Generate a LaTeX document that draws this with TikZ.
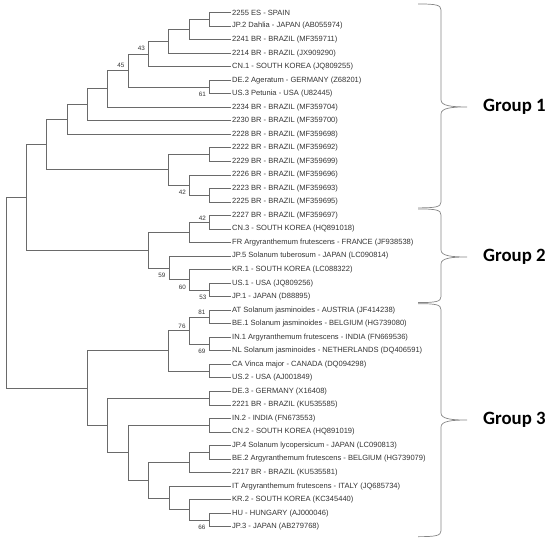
\documentclass[tikz,border=0pt]{standalone}
\usepackage{fontspec}
\usepackage{tikz}
\newfontfamily\leaffont{Liberation Sans}
\newfontfamily\groupfont[BoldFont={Carlito Bold}]{Carlito}
\definecolor{linegray}{HTML}{6A6A6A}
\definecolor{textgray}{HTML}{333333}
\definecolor{bracegray}{HTML}{858585}

\tikzset{
  leaf/.style={anchor=west, inner sep=1pt, text=textgray, font=\leaffont\fontsize{7.55}{8}\selectfont},
  boot/.style={inner sep=0pt, text=textgray, font=\leaffont\fontsize{6.3}{7}\selectfont},
  branch/.style={draw=linegray, line width=0.65pt},
  groupbrace/.style={draw=bracegray, line width=0.7pt},
  grouplabel/.style={anchor=west, inner sep=0pt, font=\groupfont\bfseries\fontsize{18.8}{20}\selectfont}
}

\begin{document}
\begin{tikzpicture}[x=1pt, y=-13.53pt]
	\useasboundingbox (0, -0.924) rectangle (550, 38.913);
	% leaves, one row each
	\node[leaf] (es2255)  at (231, 0)  {2255 ES - SPAIN};
	\node[leaf] (jp2)     at (231, 1)  {JP.2 Dahlia - JAPAN (AB055974)};
	\node[leaf] (br2241)  at (231, 2)  {2241 BR - BRAZIL (MF359711)};
	\node[leaf] (br2214)  at (231, 3)  {2214 BR - BRAZIL (JX909290)};
	\node[leaf] (cn1)     at (231, 4)  {CN.1 - SOUTH KOREA (JQ809255)};
	\node[leaf] (de2)     at (231, 5)  {DE.2 Ageratum - GERMANY (Z68201)};
	\node[leaf] (us3)     at (231, 6)  {US.3 Petunia - USA (U82445)};
	\node[leaf] (br2234)  at (231, 7)  {2234 BR - BRAZIL (MF359704)};
	\node[leaf] (br2230)  at (231, 8)  {2230 BR - BRAZIL (MF359700)};
	\node[leaf] (br2228)  at (231, 9)  {2228 BR - BRAZIL (MF359698)};
	\node[leaf] (br2222)  at (231, 10) {2222 BR - BRAZIL (MF359692)};
	\node[leaf] (br2229)  at (231, 11) {2229 BR - BRAZIL (MF359699)};
	\node[leaf] (br2226)  at (231, 12) {2226 BR - BRAZIL (MF359696)};
	\node[leaf] (br2223)  at (231, 13) {2223 BR - BRAZIL (MF359693)};
	\node[leaf] (br2225)  at (231, 14) {2225 BR - BRAZIL (MF359695)};
	\node[leaf] (br2227)  at (231, 15) {2227 BR - BRAZIL (MF359697)};
	\node[leaf] (cn3)     at (231, 16) {CN.3 - SOUTH KOREA (HQ891018)};
	\node[leaf] (fr)      at (231, 17) {FR Argyranthemum frutescens - FRANCE (JF938538)};
	\node[leaf] (jp5)     at (231, 18) {JP.5 Solanum tuberosum - JAPAN (LC090814)};
	\node[leaf] (kr1)     at (231, 19) {KR.1 - SOUTH KOREA (LC088322)};
	\node[leaf] (us1)     at (231, 20) {US.1 - USA (JQ809256)};
	\node[leaf] (jp1)     at (231, 21) {JP.1 - JAPAN (D88895)};
	\node[leaf] (aut)     at (231, 22) {AT Solanum jasminoides - AUSTRIA (JF414238)};
	\node[leaf] (be1)     at (231, 23) {BE.1 Solanum jasminoides - BELGIUM (HG739080)};
	\node[leaf] (in1)     at (231, 24) {IN.1 Argyranthemum frutescens - INDIA (FN669536)};
	\node[leaf] (nl)      at (231, 25) {NL Solanum jasminoides - NETHERLANDS (DQ406591)};
	\node[leaf] (ca)      at (231, 26) {CA Vinca major - CANADA (DQ094298)};
	\node[leaf] (us2)     at (231, 27) {US.2 - USA (AJ001849)};
	\node[leaf] (de3)     at (231, 28) {DE.3 - GERMANY (X16408)};
	\node[leaf] (br2221)  at (231, 29) {2221 BR - BRAZIL (KU535585)};
	\node[leaf] (in2)     at (231, 30) {IN.2 - INDIA (FN673553)};
	\node[leaf] (cn2)     at (231, 31) {CN.2 - SOUTH KOREA (HQ891019)};
	\node[leaf] (jp4)     at (231, 32) {JP.4 Solanum lycopersicum - JAPAN (LC090813)};
	\node[leaf] (be2)     at (231, 33) {BE.2 Argyranthemum frutescens - BELGIUM (HG739079)};
	\node[leaf] (br2217)  at (231, 34) {2217 BR - BRAZIL (KU535581)};
	\node[leaf] (it)      at (231, 35) {IT Argyranthemum frutescens - ITALY (JQ685734)};
	\node[leaf] (kr2)     at (231, 36) {KR.2 - SOUTH KOREA (KC345440)};
	\node[leaf] (hu)      at (231, 37) {HU - HUNGARY (AJ000046)};
	\node[leaf] (jp3)     at (231, 38) {JP.3 - JAPAN (AB279768)};
	% inner nodes of the tree
	\coordinate (n1)   at (209, 0.5);
	\coordinate (n2)   at (189, 1.25);
	\coordinate (n3)   at (168, 2.125);
	\coordinate (n4)   at (148, 3.06);
	\coordinate (n5)   at (209, 5.5);
	\coordinate (n6)   at (128, 4.28);
	\coordinate (n7)   at (107, 5.64);
	\coordinate (n8)   at (87, 6.82);
	\coordinate (n9)   at (67, 7.91);
	\coordinate (n10)  at (209, 10.5);
	\coordinate (n11)  at (209, 13.5);
	\coordinate (n12)  at (189, 12.75);
	\coordinate (n13)  at (168, 11.625);
	\coordinate (g1)   at (46, 9.77);
	\coordinate (n14)  at (209, 15.5);
	\coordinate (n15)  at (189, 16.25);
	\coordinate (n16)  at (209, 20.5);
	\coordinate (n17)  at (189, 19.75);
	\coordinate (n18)  at (169, 18.875);
	\coordinate (g2)   at (148, 17.56);
	\coordinate (g12)  at (26, 13.67);
	\coordinate (n19)  at (209, 22.5);
	\coordinate (n20)  at (209, 24.5);
	\coordinate (n21)  at (189, 23.5);
	\coordinate (n22)  at (209, 26.5);
	\coordinate (n23)  at (168, 25);
	\coordinate (n24)  at (209, 28.5);
	\coordinate (n25)  at (209, 30.5);
	\coordinate (n26)  at (209, 32.5);
	\coordinate (n27)  at (189, 33.25);
	\coordinate (n28)  at (209, 37.5);
	\coordinate (n29)  at (189, 36.75);
	\coordinate (n30)  at (169, 35.875);
	\coordinate (n31)  at (148, 34.56);
	\coordinate (n32)  at (128, 32.53);
	\coordinate (n33)  at (107, 30.52);
	\coordinate (g3)   at (87, 27.76);
	\coordinate (root) at (6, 20.72);
	% branches
	\draw[branch] (n1) |- (es2255) (n1) |- (jp2);
	\draw[branch] (n2) |- (n1) (n2) |- (br2241);
	\draw[branch] (n3) |- (n2) (n3) |- (br2214);
	\draw[branch] (n4) |- (n3) (n4) |- (cn1);
	\draw[branch] (n5) |- (de2) (n5) |- (us3);
	\draw[branch] (n6) |- (n4) (n6) |- (n5);
	\draw[branch] (n7) |- (n6) (n7) |- (br2234);
	\draw[branch] (n8) |- (n7) (n8) |- (br2230);
	\draw[branch] (n9) |- (n8) (n9) |- (br2228);
	\draw[branch] (n10) |- (br2222) (n10) |- (br2229);
	\draw[branch] (n11) |- (br2223) (n11) |- (br2225);
	\draw[branch] (n12) |- (br2226) (n12) |- (n11);
	\draw[branch] (n13) |- (n10) (n13) |- (n12);
	\draw[branch] (g1) |- (n9) (g1) |- (n13);
	\draw[branch] (n14) |- (br2227) (n14) |- (cn3);
	\draw[branch] (n15) |- (n14) (n15) |- (fr);
	\draw[branch] (n16) |- (us1) (n16) |- (jp1);
	\draw[branch] (n17) |- (kr1) (n17) |- (n16);
	\draw[branch] (n18) |- (jp5) (n18) |- (n17);
	\draw[branch] (g2) |- (n15) (g2) |- (n18);
	\draw[branch] (g12) |- (g1) (g12) |- (g2);
	\draw[branch] (n19) |- (aut) (n19) |- (be1);
	\draw[branch] (n20) |- (in1) (n20) |- (nl);
	\draw[branch] (n21) |- (n19) (n21) |- (n20);
	\draw[branch] (n22) |- (ca) (n22) |- (us2);
	\draw[branch] (n23) |- (n21) (n23) |- (n22);
	\draw[branch] (n24) |- (de3) (n24) |- (br2221);
	\draw[branch] (n25) |- (in2) (n25) |- (cn2);
	\draw[branch] (n26) |- (jp4) (n26) |- (be2);
	\draw[branch] (n27) |- (n26) (n27) |- (br2217);
	\draw[branch] (n28) |- (hu) (n28) |- (jp3);
	\draw[branch] (n29) |- (kr2) (n29) |- (n28);
	\draw[branch] (n30) |- (it) (n30) |- (n29);
	\draw[branch] (n31) |- (n27) (n31) |- (n30);
	\draw[branch] (n32) |- (n25) (n32) |- (n31);
	\draw[branch] (n33) |- (n24) (n33) |- (n32);
	\draw[branch] (g3) |- (n23) (g3) |- (n33);
	\draw[branch] (root) |- (g12) (root) |- (g3);
	% bootstrap values
	\node[boot] (b43)  at (141.5, 2.66)  {43};
	\node[boot] (b45)  at (121, 3.94)    {45};
	\node[boot] (b61)  at (202.5, 6.06)  {61};
	\node[boot] (b42a) at (182.5, 13.3)  {42};
	\node[boot] (b42b) at (202.5, 15.19) {42};
	\node[boot] (b59)  at (162, 19.4)    {59};
	\node[boot] (b60)  at (182.5, 20.29) {60};
	\node[boot] (b53)  at (203, 21.06)   {53};
	\node[boot] (b81)  at (202, 22.14)   {81};
	\node[boot] (b76)  at (182, 23.17)   {76};
	\node[boot] (b69)  at (202, 25.06)   {69};
	\node[boot] (b66)  at (202, 38.03)   {66};
	% group braces
	\draw[groupbrace] (418, -0.63) .. controls (436, -0.63) and (441, -0.56) .. (441, -0.19)
	  -- (441, 6.46) .. controls (441, 6.91) and (452, 6.98) .. (467, 6.98)
	  .. controls (452, 6.98) and (441, 7.05) .. (441, 7.5)
	  -- (441, 14.0) .. controls (441, 14.37) and (436, 14.44) .. (418, 14.44);
	\draw[groupbrace] (418, 14.52) .. controls (436, 14.52) and (441, 14.59) .. (441, 14.96)
	  -- (441, 17.55) .. controls (441, 18.0) and (452, 18.07) .. (467, 18.07)
	  .. controls (452, 18.07) and (441, 18.14) .. (441, 18.59)
	  -- (441, 21.0) .. controls (441, 21.37) and (436, 21.44) .. (418, 21.44);
	\draw[groupbrace] (418, 21.52) .. controls (436, 21.52) and (441, 21.59) .. (441, 21.96)
	  -- (441, 29.6) .. controls (441, 30.05) and (452, 30.12) .. (467, 30.12)
	  .. controls (452, 30.12) and (441, 30.19) .. (441, 30.64)
	  -- (441, 38.3) .. controls (441, 38.67) and (436, 38.74) .. (418, 38.74);
	\node[grouplabel] (grp1) at (483, 6.98)  {Group 1};
	\node[grouplabel] (grp2) at (483, 18.07) {Group 2};
	\node[grouplabel] (grp3) at (483, 30.12) {Group 3};
\end{tikzpicture}
\end{document}
